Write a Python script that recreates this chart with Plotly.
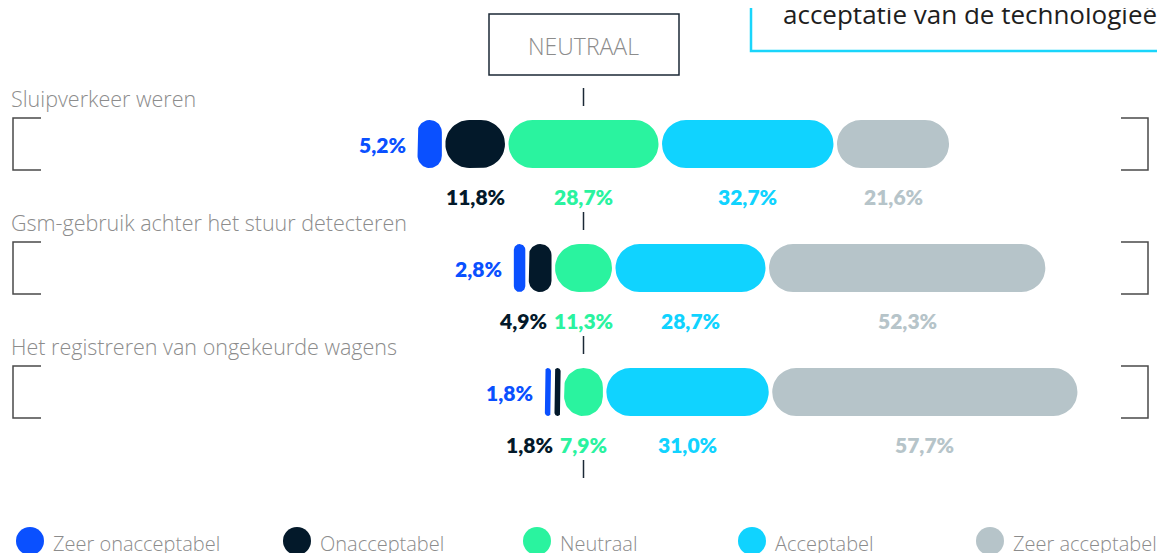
import math
import plotly.graph_objects as go

# ---------------- data ----------------
categories = [
    "Sluipverkeer weren",
    "Gsm-gebruik achter het stuur detecteren",
    "Het registreren van ongekeurde wagens",
]
series_names = ["Zeer onacceptabel", "Onacceptabel", "Neutraal", "Acceptabel", "Zeer acceptabel"]
zeer_onacceptabel = [5.2, 2.8, 1.8]
onacceptabel = [11.8, 4.9, 1.8]
neutraal = [28.7, 11.3, 7.9]
acceptabel = [32.7, 28.7, 31.0]
zeer_acceptabel = [21.6, 52.3, 57.7]
series_values = [zeer_onacceptabel, onacceptabel, neutraal, acceptabel, zeer_acceptabel]
colors = ["#0a50ff", "#03192a", "#2af39f", "#10d3ff", "#b6c4c9"]
header_text = "acceptatie van de technologieën"
neutral_title = "NEUTRAAL"

# ---------------- layout constants ----------------
W, H = 1165, 553
OFF = 8             # page body margin
CX = 583.5          # page pixel of the neutral centre
K = 5.35            # pixels per percent
ROW0 = 144          # page pixel of first row centre
STEP = 124          # pixels between rows
HALF = 24           # half bar thickness (px)
GAP = 1.75          # inset on each side of a segment (px)

XR = [(OFF - CX) / K, (W + OFF - CX) / K]
YR = [(H + OFF - ROW0) / STEP, (OFF - ROW0) / STEP]


def x2px(x):
    return CX + x * K


def px2x(p):
    return (p - CX) / K


def y2px(y):
    return ROW0 + y * STEP


def px2y(p):
    return (p - ROW0) / STEP


def fmt(v):
    return f"{v:.1f}".replace(".", ",") + "%"


def pill(x0, x1, row):
    """rounded segment between data x0..x1 for row index, returned in data coords"""
    L = x2px(x0) + GAP
    R = x2px(x1) - GAP
    cy = y2px(row)
    r = min(HALF, (R - L) / 2)
    pts = []
    corners = [
        (R - r, cy - HALF + r, -90, 0),
        (R - r, cy + HALF - r, 0, 90),
        (L + r, cy + HALF - r, 90, 180),
        (L + r, cy - HALF + r, 180, 270),
    ]
    for ccx, ccy, a0, a1 in corners:
        n = 14
        for i in range(n + 1):
            a = math.radians(a0 + (a1 - a0) * i / n)
            pts.append((ccx + r * math.cos(a), ccy + r * math.sin(a)))
    pts.append(pts[0])
    return [px2x(p[0]) for p in pts], [px2y(p[1]) for p in pts]


CHAR_W = {",": 5.8, "%": 18.0}


def text_w(s):
    return sum(CHAR_W.get(c, 12.2) for c in s)


fig = go.Figure()

# ---------------- bars ----------------
n_rows = len(categories)
bounds = []
for r in range(n_rows):
    start = -(neutraal[r] / 2 + onacceptabel[r] + zeer_onacceptabel[r])
    segs = []
    pos = start
    for s in range(len(series_names)):
        v = series_values[s][r]
        segs.append((pos, pos + v))
        pos += v
    bounds.append(segs)

for s, name in enumerate(series_names):
    xs, ys = [], []
    for r in range(n_rows):
        px_, py_ = pill(bounds[r][s][0], bounds[r][s][1], r)
        xs += px_ + [None]
        ys += py_ + [None]
    fig.add_trace(go.Scatter(
        x=xs, y=ys, mode="lines", fill="toself", fillcolor=colors[s],
        line=dict(width=0, color=colors[s]), name=name, showlegend=False,
        hoverinfo="skip",
    ))

annotations = []
shapes = []

BOLD = dict(family="Lato", size=21, weight=800)
LIGHT = "Open Sans"
LIGHT_COLOR = "#8c8c8c"

for r in range(n_rows):
    annotations.append(dict(
        x=px2x(9), y=px2y(y2px(r) - 46), xref="x", yref="y", text=categories[r],
        showarrow=False, xanchor="left", yanchor="middle",
        font=dict(family=LIGHT, size=21.5, weight=300, color=LIGHT_COLOR),
    ))
    x0 = bounds[r][0][0]
    annotations.append(dict(
        x=px2x(x2px(x0) + GAP - 10), y=r, xref="x", yref="y",
        text=fmt(zeer_onacceptabel[r]), showarrow=False, xanchor="right", yanchor="middle",
        font=dict(**BOLD, color=colors[0]),
    ))
    centers = {}
    widths = {}
    for s in range(1, 5):
        seg = bounds[r][s]
        centers[s] = x2px((seg[0] + seg[1]) / 2)
        widths[s] = text_w(fmt(series_values[s][r]))
    lim = centers[2] - widths[2] / 2 - 6
    if centers[1] + widths[1] / 2 > lim:
        centers[1] = lim - widths[1] / 2
    for s in (3, 4):
        lim = centers[s - 1] + widths[s - 1] / 2 + 6
        if centers[s] - widths[s] / 2 < lim:
            centers[s] = lim + widths[s] / 2
    for s in range(1, 5):
        annotations.append(dict(
            x=px2x(centers[s]), y=px2y(y2px(r) + 52), xref="x", yref="y",
            text=fmt(series_values[s][r]), showarrow=False, xanchor="center", yanchor="middle",
            font=dict(**BOLD, color=colors[s]),
        ))
    yt = px2y(y2px(r) - 26)
    yb = px2y(y2px(r) + 26)
    for xa, xb in ((13, 41), (1148, 1121)):
        shapes.append(dict(
            type="path", xref="x", yref="y",
            path=f"M {px2x(xb)} {yt} L {px2x(xa)} {yt} L {px2x(xa)} {yb} L {px2x(xb)} {yb}",
            line=dict(color="#4a4a4a", width=1.5),
        ))

for r in range(n_rows + 1):
    shapes.append(dict(
        type="line", xref="x", yref="y", x0=0, x1=0,
        y0=px2y(y2px(r) - 56), y1=px2y(y2px(r) - 38),
        line=dict(color="#1b2836", width=1.5),
    ))

shapes.append(dict(type="rect", xref="x", yref="y", x0=px2x(489), x1=px2x(679),
                   y0=px2y(14), y1=px2y(75), line=dict(color="#1b2836", width=1.5)))
annotations.append(dict(
    x=0, y=px2y(46), xref="x", yref="y", text=neutral_title, showarrow=False,
    xanchor="center", yanchor="middle",
    font=dict(family=LIGHT, size=23, weight=300, color=LIGHT_COLOR),
))

shapes.append(dict(type="rect", xref="x", yref="y", x0=px2x(751), x1=px2x(1300),
                   y0=px2y(-20), y1=px2y(51), line=dict(color="#1ad5fb", width=2.5)))
annotations.append(dict(
    x=px2x(781), y=px2y(14), xref="x", yref="y", text=header_text, showarrow=False,
    xanchor="left", yanchor="middle",
    font=dict(family="Open Sans", size=26, weight=400, color="#1e1e1e"),
))

legend_x_px = [30, 297, 537, 752, 990]
legend_y_px = 541
fig.add_trace(go.Scatter(
    x=[px2x(p) for p in legend_x_px], y=[px2y(legend_y_px)] * 5, mode="markers",
    marker=dict(size=28, color=colors, line=dict(width=0)), showlegend=False,
    hoverinfo="skip", cliponaxis=False,
))
for i, name in enumerate(series_names):
    annotations.append(dict(
        x=px2x(legend_x_px[i] + 21), y=px2y(legend_y_px + 2), xref="x", yref="y",
        text=name, showarrow=False, xanchor="left", yanchor="middle",
        font=dict(family=LIGHT, size=20, weight=300, color=LIGHT_COLOR),
    ))

fig.update_layout(
    width=W, height=H, autosize=False,
    margin=dict(l=0, r=0, t=0, b=0, pad=0),
    paper_bgcolor="white", plot_bgcolor="white",
    xaxis=dict(range=XR, visible=False, fixedrange=True),
    yaxis=dict(range=YR, visible=False, fixedrange=True),
    shapes=shapes, annotations=annotations,
    showlegend=False,
)

fig.write_html("out.html")
